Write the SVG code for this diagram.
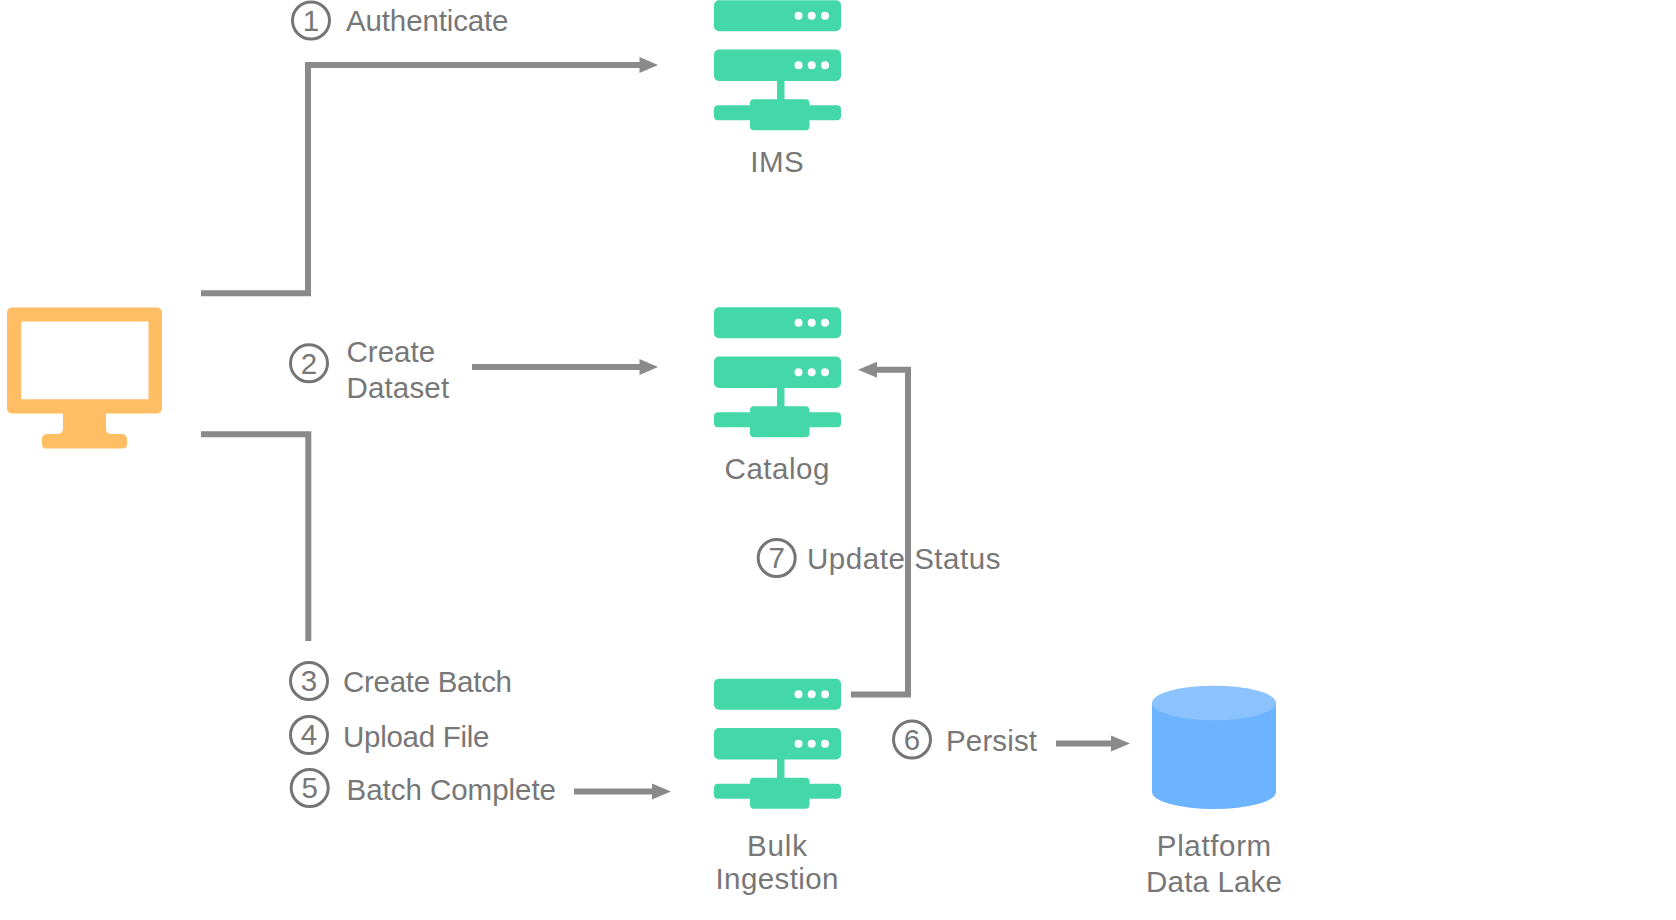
<svg xmlns="http://www.w3.org/2000/svg" width="1676" height="920" viewBox="0 0 1676 920">
<style>
text{font-family:"Liberation Sans",Arial,sans-serif;font-size:29.500px;fill:#777}
.m{text-anchor:middle}
.c{fill:none;stroke:#757575;stroke-width:3}
.l{fill:none;stroke:#8a8a8a;stroke-width:6}
.h{fill:#8a8a8a}
.s{fill:#44d7a8}
.d{fill:#fff}
</style>
<defs>
<g id="server">
<rect class="s" x="714" y="0" width="127" height="31" rx="5"/>
<circle class="d" cx="798.5" cy="15.5" r="4"/><circle class="d" cx="811.7" cy="15.5" r="4"/><circle class="d" cx="825" cy="15.5" r="4"/>
<rect class="s" x="714" y="49.3" width="127" height="31.4" rx="5"/>
<circle class="d" cx="798.5" cy="65" r="4"/><circle class="d" cx="811.7" cy="65" r="4"/><circle class="d" cx="825" cy="65" r="4"/>
<rect class="s" x="777" y="78" width="7.5" height="24"/>
<rect class="s" x="714" y="105" width="127" height="15" rx="4"/>
<rect class="s" x="750" y="99" width="59.5" height="31" rx="4"/>
</g>
</defs>
<g id="connectors">
<path class="l" d="M201 293.200H308V65H640"/>
<path class="h" d="M639.500 57L658 65L639.500 73Z"/>
<path class="l" d="M472 367H640"/>
<path class="h" d="M639.500 359L658 367L639.500 375Z"/>
<path class="l" d="M201 434.200H308.300V641"/>
<path class="l" d="M851 694.500H908V369.700H876"/>
<path class="h" d="M877 361.700L858 369.700L877 377.700Z"/>
<path class="l" d="M574 791.500H653"/>
<path class="h" d="M652 783.500L671 791.500L652 799.500Z"/>
<path class="l" d="M1056 743.500H1112"/>
<path class="h" d="M1111 735.500L1130 743.500L1111 751.500Z"/>
</g>
<g id="client">
<path fill="#ffbe64" fill-rule="evenodd" d="M12 307.500H157a5 5 0 0 1 5 5V408.500a5 5 0 0 1-5 5H106V428.500q0 5.500 6 5.500H122a5 5 0 0 1 5 5V444.500a4 4 0 0 1-4 4H46a4 4 0 0 1-4-4V439a5 5 0 0 1 5-5H57q6 0 6-5.500V413.500H12a5 5 0 0 1-5-5V312.500a5 5 0 0 1 5-5ZM21.200 321.500V399.200H148.500V321.500Z"/>
</g>
<g id="ims"><use href="#server" y="0.300"/><text class="m" x="777" y="172" textLength="53.500">IMS</text></g>
<g id="catalog"><use href="#server" y="307.300"/><text class="m" x="777" y="479" textLength="104.800">Catalog</text></g>
<g id="bulk"><use href="#server" y="678.800"/><text class="m" x="777" y="856" textLength="60">Bulk</text><text class="m" x="777" y="889" textLength="123">Ingestion</text></g>
<g id="datalake">
<path fill="#6cb4ff" d="M1152 703H1276V792A62 17 0 0 1 1152 792Z"/>
<ellipse cx="1214" cy="703" rx="62" ry="17.300" fill="#8cc3ff"/>
<text class="m" x="1214" y="856" textLength="114.400">Platform</text><text class="m" x="1214" y="892" textLength="135.800">Data Lake</text>
</g>
<g id="step1"><circle class="c" cx="311" cy="20.500" r="18.500"/><text class="m" x="311" y="30.500">1</text><text x="346" y="31" textLength="162.500">Authenticate</text></g>
<g id="step2"><circle class="c" cx="309" cy="363.300" r="18.500"/><text class="m" x="309" y="373.500">2</text><text x="346.500" y="362" textLength="88.700">Create</text><text x="346.500" y="398" textLength="102.600">Dataset</text></g>
<g id="step3"><circle class="c" cx="309" cy="681" r="18.500"/><text class="m" x="309" y="691.200">3</text><text x="343" y="692" textLength="169">Create Batch</text></g>
<g id="step4"><circle class="c" cx="309" cy="735" r="18.500"/><text class="m" x="309" y="745.200">4</text><text x="343" y="746.500" textLength="146.400">Upload File</text></g>
<g id="step5"><circle class="c" cx="309.700" cy="788" r="18.500"/><text class="m" x="309.700" y="798.200">5</text><text x="346.500" y="799.500" textLength="209.500">Batch Complete</text></g>
<g id="step6"><circle class="c" cx="912" cy="739.500" r="18.500"/><text class="m" x="912" y="749.700">6</text><text x="946" y="750.500" textLength="91">Persist</text></g>
<g id="step7"><circle class="c" cx="776.700" cy="558" r="18.500"/><text class="m" x="776.700" y="568.200">7</text><text x="807" y="568.500" textLength="193.500">Update Status</text></g>
</svg>
